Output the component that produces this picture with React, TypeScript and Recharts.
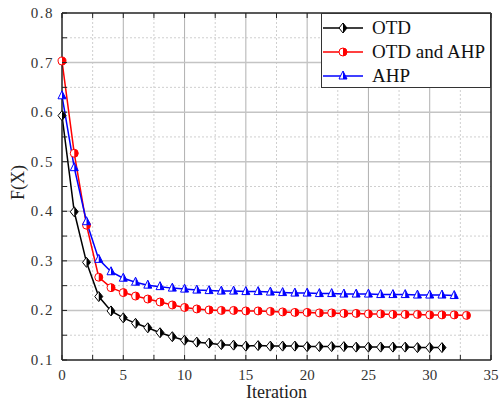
import { Line, LineChart, ReferenceLine, XAxis, YAxis } from 'recharts';

const FONT = "'Liberation Serif', 'Times New Roman', Times, serif";

const iterations = Array.from({ length: 34 }, (_, i) => i);

const otd = [
  0.593, 0.399, 0.297, 0.228, 0.199, 0.185, 0.174, 0.165, 0.155, 0.147, 0.14,
  0.136, 0.134, 0.131, 0.13, 0.128, 0.129, 0.128, 0.128, 0.128, 0.127, 0.127,
  0.127, 0.127, 0.126, 0.126, 0.126, 0.126, 0.126, 0.125, 0.125, 0.125,
];
const otdAhp = [
  0.703, 0.517, 0.372, 0.267, 0.246, 0.236, 0.229, 0.223, 0.217, 0.211, 0.206,
  0.203, 0.201, 0.2, 0.2, 0.199, 0.199, 0.198, 0.197, 0.196, 0.196, 0.195,
  0.195, 0.194, 0.194, 0.193, 0.193, 0.192, 0.192, 0.192, 0.191, 0.191, 0.191,
  0.19,
];
const ahp = [
  0.633, 0.488, 0.379, 0.303, 0.278, 0.265, 0.257, 0.251, 0.248, 0.245, 0.243,
  0.241, 0.24, 0.239, 0.239, 0.238, 0.238, 0.237, 0.236, 0.235, 0.235, 0.234,
  0.234, 0.233, 0.233, 0.233, 0.232, 0.232, 0.232, 0.231, 0.231, 0.231, 0.23,
];

const xTicks = [0, 2.5, 5, 7.5, 10, 12.5, 15, 17.5, 20, 22.5, 25, 27.5, 30, 32.5, 35];
const yTicks = [0.1, 0.15, 0.2, 0.25, 0.3, 0.35, 0.4, 0.45, 0.5, 0.55, 0.6, 0.65, 0.7, 0.75, 0.8];
const xMajor = [5, 10, 15, 20, 25, 30];
const xMinor = [2.5, 7.5, 12.5, 17.5, 22.5, 27.5, 32.5];
const yMajor = [0.2, 0.3, 0.4, 0.5, 0.6, 0.7];
const yMinor = [0.15, 0.25, 0.35, 0.45, 0.55, 0.65, 0.75];

const SERIES = [
  { key: 'otd', name: 'OTD', color: '#000000', shape: 'diamond' },
  { key: 'otdAhp', name: 'OTD and AHP', color: '#ff0000', shape: 'circle' },
  { key: 'ahp', name: 'AHP', color: '#0000ff', shape: 'triangle' },
];

const data = iterations.map((x, i) => ({
  x,
  otd: otd[i],
  otdAhp: otdAhp[i],
  ahp: ahp[i],
}));

function Marker({ cx, cy, color, shape }: any) {
  if (cx == null || cy == null || Number.isNaN(cy)) return null;
  const r = 4;
  if (shape === 'diamond') {
    return (
      <g>
        <polygon
          points={`${cx},${cy - r - 1} ${cx + r},${cy} ${cx},${cy + r + 1} ${cx - r},${cy}`}
          fill="#fff"
          stroke={color}
          strokeWidth={1}
        />
        <polygon
          points={`${cx},${cy - r - 1} ${cx + r},${cy} ${cx},${cy + r + 1}`}
          fill={color}
        />
      </g>
    );
  }
  if (shape === 'circle') {
    return (
      <g>
        <circle cx={cx} cy={cy} r={r} fill="#fff" stroke={color} strokeWidth={1} />
        <path d={`M${cx},${cy - r} A${r},${r} 0 0 1 ${cx},${cy + r} Z`} fill={color} />
      </g>
    );
  }
  return (
    <g>
      <polygon
        points={`${cx},${cy - r - 1} ${cx + r},${cy + r - 1} ${cx - r},${cy + r - 1}`}
        fill="#fff"
        stroke={color}
        strokeWidth={1}
      />
      <polygon
        points={`${cx},${cy - r - 1} ${cx + r},${cy + r - 1} ${cx},${cy + r - 1}`}
        fill={color}
      />
    </g>
  );
}

const isMajor = (v: number, step: number) =>
  Math.abs(v / step - Math.round(v / step)) < 1e-6;

function LeftTick({ x, y, payload }: any) {
  const v = payload.value;
  return (
    <g>
      <line x1={x} y1={y} x2={x + 5} y2={y} stroke="#222" />
      {isMajor(v, 0.1) && (
        <text x={x - 8} y={y + 5} textAnchor="end" fill="#333" letterSpacing={1.5} fontFamily={FONT} style={{ fontFamily: FONT, fontSize: 15 }}>
          {v.toFixed(1)}
        </text>
      )}
    </g>
  );
}

function RightTick({ x, y }: any) {
  return <line x1={x} y1={y} x2={x - 5} y2={y} stroke="#222" />;
}

function BottomTick({ x, y, payload }: any) {
  const v = payload.value;
  return (
    <g>
      <line x1={x} y1={y} x2={x} y2={y - 5} stroke="#222" />
      {isMajor(v, 5) && (
        <text x={x} y={y + 20} textAnchor="middle" fill="#333" fontFamily={FONT} style={{ fontFamily: FONT, fontSize: 15 }}>
          {v}
        </text>
      )}
    </g>
  );
}

function TopTick({ x, y }: any) {
  return <line x1={x} y1={y} x2={x} y2={y + 5} stroke="#222" />;
}

function LegendBox() {
  return (
    <div
      style={{
        position: 'absolute',
        left: 321,
        top: 13,
        border: '1px solid #333',
        background: '#fff',
        width: 170,
        height: 75,
        boxSizing: 'border-box',
        paddingTop: 2,
        fontFamily: FONT,
      }}
    >
      {SERIES.map((s) => (
        <div key={s.key} style={{ display: 'flex', alignItems: 'center', height: 24, whiteSpace: 'nowrap' }}>
          <svg width={44} height={20} style={{ flex: 'none' }}>
            <line x1={1} y1={10} x2={41} y2={10} stroke={s.color} strokeWidth={1.5} />
            <Marker cx={21} cy={10} color={s.color} shape={s.shape} />
          </svg>
          <span style={{ fontSize: 19, color: '#111', lineHeight: '20px', marginLeft: 6, fontFamily: FONT }}>{s.name}</span>
        </div>
      ))}
    </div>
  );
}

export default function App() {
  return (
    <div style={{ position: 'absolute', left: 0, top: 0, width: 499, height: 403, background: '#fff', fontFamily: FONT }}>
      <LineChart
        width={499}
        height={403}
        data={data}
        margin={{ top: 12, right: 7, bottom: 13, left: 12 }}
        style={{ fontFamily: FONT }}
      >
        {xMinor.map((v) => (
          <ReferenceLine key={`xm${v}`} x={v} stroke="#cfcfcf" strokeDasharray="2 2" />
        ))}
        {yMinor.map((v) => (
          <ReferenceLine key={`ym${v}`} y={v} stroke="#cfcfcf" strokeDasharray="2 2" />
        ))}
        {xMajor.map((v) => (
          <ReferenceLine key={`xM${v}`} x={v} stroke="#b0b0b0" />
        ))}
        {yMajor.map((v) => (
          <ReferenceLine key={`yM${v}`} y={v} stroke="#c4c4c4" strokeWidth={1.5} />
        ))}
        <XAxis
          dataKey="x"
          type="number"
          domain={[0, 35]}
          ticks={xTicks}
          interval={0}
          height={30}
          tickSize={0}
          tickMargin={0}
          tickLine={false}
          tick={<BottomTick />}
          axisLine={{ stroke: '#222', strokeWidth: 1.5 }}
          label={{
            value: 'Iteration',
            position: 'insideBottom',
            offset: -8,
            style: { fontSize: 18, fill: '#222', fontFamily: FONT },
          }}
        />
        <XAxis
          xAxisId="top"
          orientation="top"
          dataKey="x"
          type="number"
          domain={[0, 35]}
          ticks={xTicks}
          interval={0}
          height={1}
          tickSize={0}
          tickMargin={0}
          tickLine={false}
          tick={<TopTick />}
          axisLine={{ stroke: '#222', strokeWidth: 1.5 }}
        />
        <YAxis
          type="number"
          domain={[0.1, 0.8]}
          ticks={yTicks}
          interval={0}
          width={50}
          tickSize={0}
          tickMargin={0}
          tickLine={false}
          tick={<LeftTick />}
          axisLine={{ stroke: '#222', strokeWidth: 1.5 }}
          label={{
            value: 'F(X)',
            angle: -90,
            position: 'insideLeft',
            offset: 6,
            dy: -4,
            style: { fontSize: 18, fill: '#222', fontFamily: FONT, textAnchor: 'middle' },
          }}
        />
        <YAxis
          yAxisId="right"
          orientation="right"
          type="number"
          domain={[0.1, 0.8]}
          ticks={yTicks}
          interval={0}
          width={1}
          tickSize={0}
          tickMargin={0}
          tickLine={false}
          tick={<RightTick />}
          axisLine={{ stroke: '#222', strokeWidth: 1.5 }}
        />
        {SERIES.map((s) => (
          <Line
            key={s.key}
            type="linear"
            dataKey={s.key}
            name={s.name}
            stroke={s.color}
            strokeWidth={1.5}
            dot={(p: any) => <Marker key={`${s.key}-${p.index}`} cx={p.cx} cy={p.cy} color={s.color} shape={s.shape} />}
            activeDot={false}
            isAnimationActive={false}
          />
        ))}
      </LineChart>
      <LegendBox />
    </div>
  );
}
